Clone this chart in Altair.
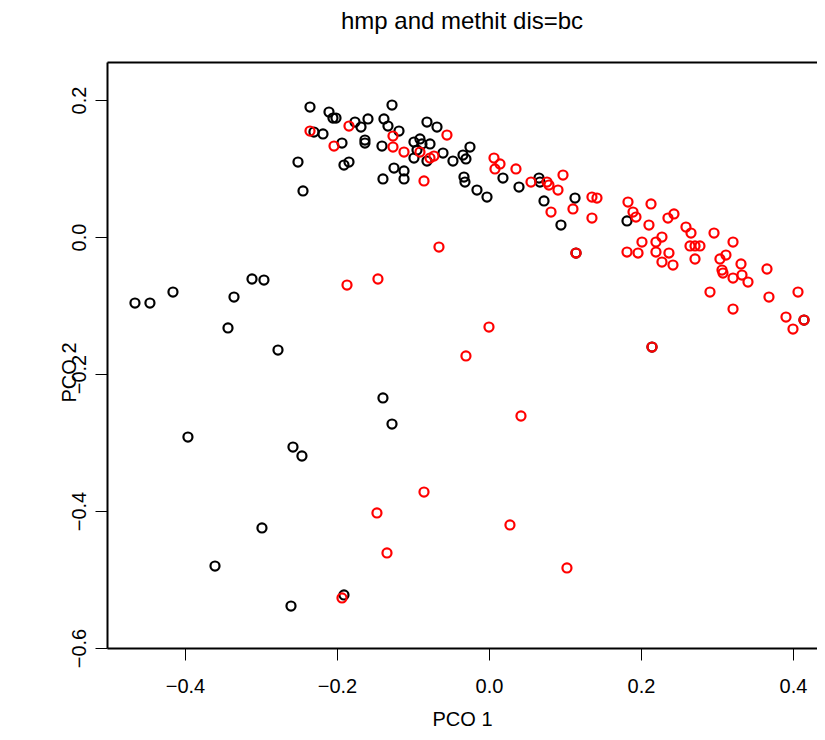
import altair as alt
import pandas as pd

# hmp samples (black)
black_x = [-0.2355, -0.2105, -0.2053, -0.2013, -0.2184, -0.2303, -0.1934, -0.2513, -0.2447,
           -0.1908, -0.1842, -0.1763, -0.1684, -0.1592, -0.1632, -0.1632, -0.1408, -0.1276,
           -0.1382, -0.1329, -0.1184, -0.1250, -0.1118, -0.1395, -0.1118, -0.0816, -0.0684,
           -0.0987, -0.0908, -0.0882, -0.0776, -0.0987, -0.0816, -0.0947, -0.0605, -0.0474,
           -0.0342, -0.0250, -0.0303, -0.0329, -0.0316, -0.0158, -0.0026, 0.0184, 0.0395,
           0.0658, 0.0671, 0.0724, 0.0947, 0.1132, 0.1816,
           -0.4658, -0.4461, -0.4158, -0.3355, -0.3118, -0.2961, -0.3434, -0.2776, -0.3961,
           -0.2579, -0.2461, -0.2987, -0.3605, -0.2605, -0.1908, -0.1395, -0.1276,
           0.1145, 0.2145, 0.4145]
black_y = [0.1898, 0.1825, 0.1737, 0.1737, 0.1504, 0.1533, 0.1372, 0.1095, 0.0672,
           0.1051, 0.1095, 0.1679, 0.1606, 0.1723, 0.1416, 0.1372, 0.1328, 0.1927,
           0.1723, 0.1620, 0.1547, 0.1007, 0.0964, 0.0847, 0.0847, 0.1679, 0.1606,
           0.1387, 0.1431, 0.1358, 0.1358, 0.1153, 0.1109, 0.1270, 0.1226, 0.1109,
           0.1197, 0.1314, 0.1139, 0.0876, 0.0803, 0.0686, 0.0584, 0.0861, 0.0730,
           0.0861, 0.0803, 0.0526, 0.0175, 0.0569, 0.0234,
           -0.0964, -0.0964, -0.0803, -0.0876, -0.0613, -0.0628, -0.1328, -0.1650, -0.2920,
           -0.3066, -0.3197, -0.4248, -0.4803, -0.5387, -0.5226, -0.2350, -0.2730,
           -0.0234, -0.1606, -0.1212]

# methit samples (red)
red_x = [-0.2355, -0.1842, -0.2039, -0.1263, -0.1263, -0.1118, -0.0908, -0.0776, -0.0724,
         -0.0553, -0.0855, 0.0066, 0.0145, 0.0079, 0.0355, 0.0553, 0.0763, 0.0789, 0.0908,
         0.0974, 0.0816, 0.1105, 0.1355, 0.1421, 0.1355, 0.1829, 0.2132, 0.1895, 0.1934,
         0.2105, 0.2355, 0.2434, 0.2013, 0.2197, 0.2276, 0.2592, 0.2658, 0.2961, 0.3211,
         0.1816, 0.1961, 0.2197, 0.2368, 0.2276, 0.2421, 0.2645, 0.2711, 0.2776, 0.2711,
         0.3039, 0.3118, 0.3066, 0.3079, 0.3211, 0.3316, 0.3329, 0.3408, 0.3658, 0.2908,
         0.3211, 0.3684, 0.4066, 0.3908, 0.4000, 0.4145, 0.1145, 0.2145,
         -0.0658, -0.1868, -0.1461, 0.0000, -0.0303, 0.0421, -0.0855, -0.1474, 0.0276,
         -0.1342, 0.1026, -0.1934]
red_y = [0.1547, 0.1620, 0.1328, 0.1474, 0.1314, 0.1241, 0.1241, 0.1153, 0.1182,
         0.1489, 0.0818, 0.1153, 0.1066, 0.0993, 0.0993, 0.0803, 0.0803, 0.0759, 0.0686,
         0.0905, 0.0365, 0.0409, 0.0584, 0.0569, 0.0277, 0.0511, 0.0482, 0.0365, 0.0292,
         0.0175, 0.0277, 0.0336, -0.0073, -0.0073, 0.0000, 0.0146, 0.0058, 0.0058, -0.0073,
         -0.0219, -0.0234, -0.0219, -0.0234, -0.0365, -0.0409, -0.0131, -0.0131, -0.0131, -0.0321,
         -0.0321, -0.0263, -0.0482, -0.0526, -0.0599, -0.0394, -0.0555, -0.0657, -0.0467, -0.0803,
         -0.1051, -0.0876, -0.0803, -0.1168, -0.1343, -0.1212, -0.0234, -0.1606,
         -0.0146, -0.0701, -0.0613, -0.1314, -0.1737, -0.2613, -0.3723, -0.4029, -0.4204,
         -0.4613, -0.4832, -0.5270]

groups = ["hmp", "methit"]
colors = ["black", "red"]
x_ticks = [-0.4, -0.2, 0.0, 0.2, 0.4]
y_ticks = [0.2, 0.0, -0.2, -0.4, -0.6]
x_domain = [-0.5026, 0.4316]
y_domain = [-0.6, 0.2555]

df = pd.DataFrame({
    "x": black_x + red_x,
    "y": black_y + red_y,
    "group": [groups[0]] * len(black_x) + [groups[1]] * len(red_x),
    "order": [0] * len(black_x) + [1] * len(red_x),
})

FONT = "Liberation Sans"
xscale = alt.Scale(domain=x_domain, nice=False, zero=False)
yscale = alt.Scale(domain=y_domain, nice=False, zero=False)

points = alt.Chart(df).mark_point(shape="circle", filled=False, size=82, strokeWidth=2.2, opacity=1).encode(
    x=alt.X("x:Q", scale=xscale,
            axis=alt.Axis(values=x_ticks, format=".1f", title="PCO 1", grid=False,
                          domainColor="black", domainWidth=2, tickColor="black", tickWidth=1,
                          tickSize=12, labelFontSize=20, titleFontSize=20, labelFont=FONT,
                          titleFont=FONT, titleFontWeight="normal", labelColor="black",
                          titleColor="black", labelPadding=16, titlePadding=13)),
    y=alt.Y("y:Q", scale=yscale,
            axis=alt.Axis(values=y_ticks, format=".1f", title="PCO 2", grid=False,
                          domainColor="black", domainWidth=2, tickColor="black", tickWidth=1,
                          tickSize=12, labelFontSize=20, titleFontSize=20, labelFont=FONT,
                          titleFont=FONT, titleFontWeight="normal", labelColor="black",
                          titleColor="black", labelAngle=-90, labelAlign="center",
                          labelBaseline="bottom", labelPadding=6,
                          titleAngle=-90, titleX=-28, titleY=310, titleAlign="center",
                          titleBaseline="bottom")),
    color=alt.Color("group:N", scale=alt.Scale(domain=groups, range=colors), legend=None),
    order=alt.Order("order:Q"),
)

top = alt.Chart(df).mark_point(opacity=0).encode(
    x=alt.X("x:Q", scale=xscale,
            axis=alt.Axis(orient="top", labels=False, ticks=False, grid=False, title=None,
                          domainColor="black", domainWidth=2)),
    y=alt.Y("y:Q", scale=yscale, axis=None),
)

chart = alt.layer(points, top).resolve_axis(x="independent", y="independent").properties(
    width=710,
    height=586,
    autosize=alt.AutoSizeParams(type="none"),
    padding={"left": 99, "top": 54, "right": 0, "bottom": 84},
    title=alt.TitleParams("hmp and methit dis=bc", fontSize=24, font=FONT,
                          fontWeight="normal", color="black", anchor="middle", offset=28),
).configure_view(stroke=None).configure(background="white")

chart.save("out.html", embed_options={"renderer": "svg", "actions": False})
